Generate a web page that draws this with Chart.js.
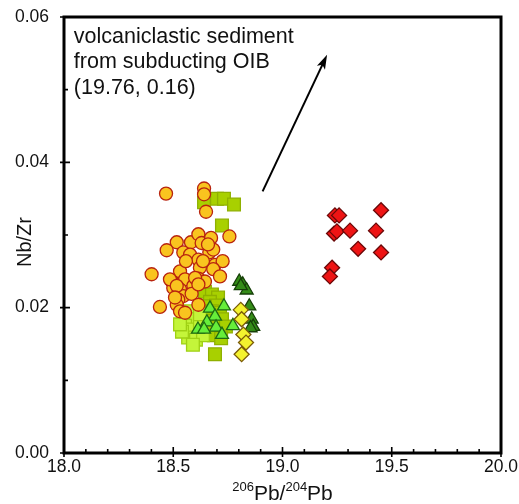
<!DOCTYPE html>
<html>
<head>
<meta charset="utf-8">
<script src="https://cdn.jsdelivr.net/npm/chart.js@4.4.1/dist/chart.umd.min.js"></script>
<style>
  body { margin: 0; background: #fff; }
  canvas { display: block; }
</style>
</head>
<body>
<canvas id="chart" width="519" height="504"></canvas>
<script>
// ---- data (206Pb/204Pb vs Nb/Zr) ----
const circleX = [18.467, 18.641, 18.641, 18.650, 18.757, 18.516, 18.581, 18.615, 18.630, 18.673,
  18.470, 18.546, 18.577, 18.665, 18.683, 18.615, 18.691, 18.726, 18.622, 18.683,
  18.714, 18.531, 18.401, 18.493, 18.554, 18.615, 18.645, 18.531, 18.500, 18.592,
  18.546, 18.584, 18.523, 18.439, 18.615, 18.516, 18.531, 18.554,
  18.485, 18.516, 18.600, 18.615, 18.636, 18.659, 18.558, 18.508];
const circleY = [0.0357, 0.0364, 0.0356, 0.0332, 0.0298, 0.0290, 0.0290, 0.0301, 0.0289, 0.0296,
  0.0279, 0.0276, 0.0273, 0.0276, 0.0280, 0.0266, 0.0259, 0.0264, 0.0255, 0.0253,
  0.0243, 0.0250, 0.0246, 0.0236, 0.0239, 0.0240, 0.0236, 0.0225, 0.0227, 0.0230,
  0.0216, 0.0219, 0.0211, 0.0201, 0.0204, 0.0204, 0.0195, 0.0193,
  0.0239, 0.0230, 0.0241, 0.0232, 0.0264, 0.0287, 0.0264, 0.0214];

const oliveSqX = [18.645, 18.677, 18.705, 18.668, 18.696, 18.645, 18.677, 18.714, 18.654, 18.686,
  18.723, 18.668, 18.705, 18.741, 18.686, 18.719, 18.691, 18.641, 18.700, 18.732, 18.778, 18.723];
const oliveSqY = [0.0222, 0.0218, 0.0214, 0.0208, 0.0203, 0.0202, 0.0195, 0.0193, 0.0186, 0.0182,
  0.0184, 0.0173, 0.0169, 0.0174, 0.0162, 0.0158, 0.0136, 0.0345, 0.0350, 0.0350, 0.0342, 0.0313];

const limeSqX = [18.545, 18.577, 18.604, 18.554, 18.586, 18.622, 18.568, 18.604, 18.540, 18.636, 18.590, 18.622, 18.531];
const limeSqY = [0.0186, 0.0195, 0.0184, 0.0175, 0.0170, 0.0177, 0.0159, 0.0156, 0.0167, 0.0162, 0.0149, 0.0191, 0.0177];

const lightTriX = [18.668, 18.732, 18.691, 18.654, 18.613, 18.696, 18.723, 18.773, 18.641];
const lightTriY = [0.0199, 0.0202, 0.0188, 0.0180, 0.0170, 0.0173, 0.0163, 0.0175, 0.0170];

const darkTriX = [18.802, 18.818, 18.836, 18.809, 18.848, 18.859, 18.866, 18.854];
const darkTriY = [0.0236, 0.0232, 0.0224, 0.0230, 0.0202, 0.0184, 0.0174, 0.0172];

const yellowDiaX = [18.809, 18.813, 18.821, 18.833, 18.813];
const yellowDiaY = [0.0197, 0.0184, 0.0163, 0.0152, 0.0136];

const redDiaX = [19.240, 19.259, 19.451, 19.236, 19.249, 19.309, 19.428, 19.346, 19.451, 19.227, 19.217];
const redDiaY = [0.0327, 0.0327, 0.0334, 0.0302, 0.0305, 0.0306, 0.0306, 0.0281, 0.0276, 0.0255, 0.0243];

const xTicks = [18.0, 18.5, 19.0, 19.5, 20.0];
const yTicks = [0.00, 0.02, 0.04, 0.06];

const noteLines = ['volcaniclastic sediment', 'from subducting OIB', '(19.76, 0.16)'];
const noteAnchor = [18.045, 0.0573];
const arrowFrom = [18.909, 0.0360];
const arrowTo = [19.204, 0.0548];

const FONT = '"Liberation Sans", Arial, Helvetica, sans-serif';

function pts(xs, ys) {
  return xs.map((v, i) => ({ x: v, y: ys[i] }));
}

function series(label, xs, ys, style, fill, border, radius, order) {
  return {
    label: label,
    data: pts(xs, ys),
    pointStyle: style,
    pointRadius: radius,
    pointHoverRadius: radius,
    backgroundColor: fill,
    borderColor: border,
    borderWidth: 1.3,
    showLine: false,
    order: order
  };
}

// frame, ticks, axis titles, annotation and arrow
const decor = {
  id: 'decor',
  afterDraw(chart) {
    const { ctx, chartArea: a, scales: { x, y } } = chart;
    ctx.save();
    ctx.strokeStyle = '#000';
    ctx.lineWidth = 3;
    ctx.strokeRect(a.left, a.top, a.right - a.left, a.bottom - a.top);

    ctx.lineWidth = 1.6;
    ctx.beginPath();
    for (let i = 0; i <= 20; i++) {
      const px = x.getPixelForValue(18 + i * 0.1);
      const major = i % 5 === 0;
      ctx.moveTo(px, a.bottom + (major ? 4 : 0));
      ctx.lineTo(px, a.bottom - (major ? 6 : 4));
    }
    for (let i = 0; i <= 6; i++) {
      const py = y.getPixelForValue(i * 0.01);
      const major = i % 2 === 0;
      ctx.moveTo(a.left - (major ? 4 : 0), py);
      ctx.lineTo(a.left + (major ? 6 : 4), py);
    }
    ctx.stroke();

    // y title
    ctx.fillStyle = '#111';
    ctx.font = '20px ' + FONT;
    ctx.textAlign = 'center';
    ctx.textBaseline = 'middle';
    ctx.save();
    ctx.translate(25, 242);
    ctx.rotate(-Math.PI / 2);
    ctx.fillText('Nb/Zr', 0, 0);
    ctx.restore();

    // x title with superscripts
    const parts = [['206', 13, 491], ['Pb/', 21, 500], ['204', 13, 491], ['Pb', 21, 500]];
    let total = 0;
    parts.forEach(p => { ctx.font = p[1] + 'px ' + FONT; total += ctx.measureText(p[0]).width; });
    let cx = (a.left + a.right) / 2 - total / 2;
    ctx.textAlign = 'left';
    ctx.textBaseline = 'alphabetic';
    parts.forEach(p => {
      ctx.font = p[1] + 'px ' + FONT;
      ctx.fillText(p[0], cx, p[2]);
      cx += ctx.measureText(p[0]).width;
    });

    // note
    ctx.font = '21.5px ' + FONT;
    ctx.textBaseline = 'middle';
    const nx = x.getPixelForValue(noteAnchor[0]);
    const ny = y.getPixelForValue(noteAnchor[1]);
    noteLines.forEach((t, i) => ctx.fillText(t, nx, ny + i * 25.5));

    // arrow
    const x0 = x.getPixelForValue(arrowFrom[0]), y0 = y.getPixelForValue(arrowFrom[1]);
    const x1 = x.getPixelForValue(arrowTo[0]), y1 = y.getPixelForValue(arrowTo[1]);
    const ang = Math.atan2(y1 - y0, x1 - x0);
    ctx.lineWidth = 2;
    ctx.beginPath();
    ctx.moveTo(x0, y0);
    ctx.lineTo(x1 - 10 * Math.cos(ang), y1 - 10 * Math.sin(ang));
    ctx.stroke();
    ctx.fillStyle = '#000';
    ctx.beginPath();
    ctx.moveTo(x1, y1);
    ctx.lineTo(x1 - 15 * Math.cos(ang - 0.3), y1 - 15 * Math.sin(ang - 0.3));
    ctx.lineTo(x1 - 11 * Math.cos(ang), y1 - 11 * Math.sin(ang));
    ctx.lineTo(x1 - 15 * Math.cos(ang + 0.3), y1 - 15 * Math.sin(ang + 0.3));
    ctx.closePath();
    ctx.fill();
    ctx.restore();
  }
};

new Chart(document.getElementById('chart'), {
  type: 'scatter',
  data: {
    datasets: [
      series('olive squares', oliveSqX, oliveSqY, 'rect', '#a8d000', '#8fb000', 9, 6),
      series('lime squares', limeSqX, limeSqY, 'rect', '#c4f53a', '#9fd014', 9, 5),
      series('light triangles', lightTriX, lightTriY, 'triangle', '#66ee3a', '#1f6a12', 7.5, 2),
      series('circles', circleX, circleY, 'circle', '#f9c41f', '#b8240f', 6.5, 1),
      series('dark triangles', darkTriX, darkTriY, 'triangle', '#348c18', '#163f08', 7.5, 3),
      series('yellow diamonds', yellowDiaX, yellowDiaY, 'rectRot', '#f4f22e', '#7a5a08', 7.5, 0),
      series('red diamonds', redDiaX, redDiaY, 'rectRot', '#ee1414', '#6a0808', 7.5, 0)
    ]
  },
  options: {
    responsive: false,
    animation: false,
    layout: { padding: { top: 17, right: 18, left: 0, bottom: 0 } },
    plugins: { legend: { display: false }, tooltip: { enabled: false } },
    scales: {
      x: {
        type: 'linear', min: 18, max: 20,
        afterFit: s => { s.height = 51; s.paddingLeft = 0; s.paddingRight = 0; },
        afterBuildTicks: s => { s.ticks = xTicks.map(v => ({ value: v })); },
        grid: { display: false, drawTicks: false },
        border: { display: false },
        ticks: { padding: 4, color: '#111', font: { size: 17.5, family: FONT },
          callback: v => v.toFixed(1) }
      },
      y: {
        type: 'linear', min: 0, max: 0.06,
        afterFit: s => { s.width = 64; s.paddingTop = 0; s.paddingBottom = 0; },
        afterBuildTicks: s => { s.ticks = yTicks.map(v => ({ value: v })); },
        grid: { display: false, drawTicks: false },
        border: { display: false },
        ticks: { padding: 15, color: '#111', font: { size: 17.5, family: FONT },
          callback: v => v.toFixed(2) }
      }
    }
  },
  plugins: [decor]
});
</script>
</body>
</html>
